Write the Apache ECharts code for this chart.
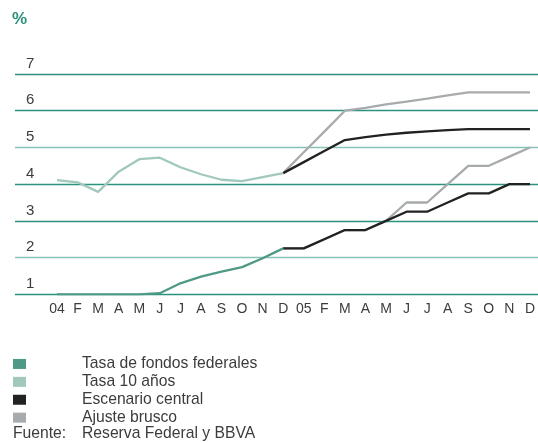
<!DOCTYPE html>
<html><head><meta charset="utf-8">
<script src="https://cdn.jsdelivr.net/npm/echarts@6/dist/echarts.min.js"></script>
<style>html,body{margin:0;padding:0;background:#fff}#c{width:538px;height:443px}</style>
</head><body><div id="c"></div>
<script>
const months = ['04','F','M','A','M','J','J','A','S','O','N','D','05','F','M','A','M','J','J','A','S','O','N','D'];
const yTicks = [1,2,3,4,5,6,7];
// 2004 observed
const fedFunds = [1.0,1.0,1.0,1.0,1.0,1.03,1.30,1.48,1.62,1.74,1.98,2.25];
const tasa10 = [4.11,4.05,3.79,4.34,4.68,4.72,4.46,4.27,4.12,4.08,4.19,4.30];
// 2005 scenarios (starting at Dec 04)
const centralLong = [4.30,4.60,4.90,5.20,5.28,5.35,5.40,5.44,5.47,5.50,5.50,5.50,5.50];
const centralShort = [2.25,2.25,2.50,2.75,2.75,3.00,3.25,3.25,3.50,3.75,3.75,4.00,4.00];
const bruscoLong = [4.30,4.87,5.43,6.00,6.08,6.17,6.25,6.33,6.42,6.50,6.50,6.50,6.50];
const bruscoShort = [2.25,2.25,2.50,2.75,2.75,3.00,3.50,3.50,4.00,4.50,4.50,4.75,5.00];

const pad2004 = arr => arr.concat(new Array(12).fill('-'));
const pad2005 = arr => new Array(11).fill('-').concat(arr);

const C_FED = '#4f9a86', C_10 = '#a0c8bd', C_CEN = '#222321', C_BRU = '#a8abad';
const TXT = '#3c3c3c';
const FONT = 'Liberation Sans';
const G_DARK = '#2a927e', G_LIGHT = '#86c2b5';

const gTop = 74, gBottom = 443 - 294.3;
const chart = echarts.init(document.getElementById('c'));
chart.setOption({
  animation: false,
  textStyle: {fontFamily: FONT},
  grid: [
    {left: 57, right: 8, top: gTop, bottom: gBottom},
    {left: 15, right: 0, top: gTop, bottom: gBottom}
  ],
  xAxis: [
    {gridIndex: 0, type: 'category', data: months, boundaryGap: false,
     axisLine: {show: false}, axisTick: {show: false}, splitLine: {show: false},
     axisLabel: {color: TXT, fontSize: 14, margin: 8, interval: 0, fontFamily: FONT}},
    {gridIndex: 1, type: 'value', min: 0, max: 1, show: false}
  ],
  yAxis: [
    {gridIndex: 0, type: 'value', min: 1, max: 7, interval: 1, show: false},
    {gridIndex: 1, type: 'value', min: 1, max: 7, interval: 1,
     axisLine: {show: false}, axisTick: {show: false},
     splitLine: {show: true, lineStyle: {width: 1.3,
       color: [G_DARK, G_LIGHT, G_DARK, G_DARK, G_LIGHT, G_DARK, G_DARK]}},
     axisLabel: {inside: true, margin: 11, color: TXT, fontSize: 15, fontFamily: FONT,
       verticalAlign: 'bottom', lineHeight: 21, showMinLabel: true, showMaxLabel: true,
       hideOverlap: false,
       formatter: v => yTicks.includes(v) ? String(v) : ''}}
  ],
  legend: {
    orient: 'vertical', left: 13, top: 355, padding: 0, itemWidth: 13, itemHeight: 10, itemGap: 0,
    icon: 'rect', selectedMode: false,
    textStyle: {color: TXT, fontSize: 15.7, fontFamily: FONT, lineHeight: 17.9, padding: [0,0,0,51]},
    data: ['Tasa de fondos federales','Tasa 10 años','Escenario central','Ajuste brusco']
  },
  graphic: [
    {type: 'text', left: 12, top: 11, style: {text: '%', fill: '#2a907a', font: 'bold 17px ' + FONT}},
    {type: 'text', left: 13, top: 426, style: {text: 'Fuente:', fill: TXT, font: '15.7px ' + FONT}},
    {type: 'text', left: 82, top: 426, style: {text: 'Reserva Federal y BBVA', fill: TXT, font: '15.7px ' + FONT}}
  ],
  series: [
    {name: 'Ajuste brusco', type: 'line', data: pad2005(bruscoLong), symbol: 'none', color: C_BRU, lineStyle: {width: 2.3, color: C_BRU}},
    {name: 'Ajuste brusco', type: 'line', data: pad2005(bruscoShort), symbol: 'none', color: C_BRU, lineStyle: {width: 2.3, color: C_BRU}},
    {name: 'Escenario central', type: 'line', data: pad2005(centralLong), symbol: 'none', color: C_CEN, lineStyle: {width: 2.3, color: C_CEN}},
    {name: 'Escenario central', type: 'line', data: pad2005(centralShort), symbol: 'none', color: C_CEN, lineStyle: {width: 2.3, color: C_CEN}},
    {name: 'Tasa de fondos federales', type: 'line', data: pad2004(fedFunds), symbol: 'none', color: C_FED, lineStyle: {width: 2.3, color: C_FED}},
    {name: 'Tasa 10 años', type: 'line', data: pad2004(tasa10), symbol: 'none', color: C_10, lineStyle: {width: 2.3, color: C_10}}
  ]
});
</script></body></html>
